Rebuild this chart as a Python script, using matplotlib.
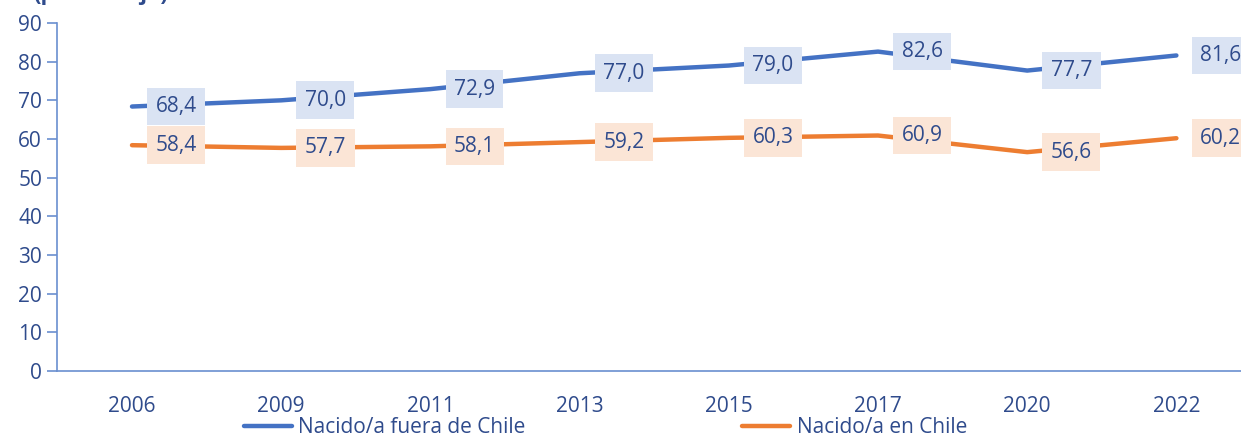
import matplotlib
matplotlib.use("Agg")
import matplotlib.pyplot as plt

years = ["2006", "2009", "2011", "2013", "2015", "2017", "2020", "2022"]
fuera = [68.4, 70.0, 72.9, 77.0, 79.0, 82.6, 77.7, 81.6]
en_chile = [58.4, 57.7, 58.1, 59.2, 60.3, 60.9, 56.6, 60.2]
series_names = ["Nacido/a fuera de Chile", "Nacido/a en Chile"]
yticks = [0, 10, 20, 30, 40, 50, 60, 70, 80, 90]

plt.rcParams['font.family'] = ['Open Sans', 'DejaVu Sans']
txt = "#2F4B8C"
blue = "#4472C4"
orange = "#ED7D31"

fig = plt.figure(figsize=(12.41, 4.37), dpi=100)
ax = fig.add_axes([57.4/1241, 66/437, 1193.6/1241, 348/437])
x = list(range(len(years)))
ax.plot(x, fuera, color=blue, lw=3.2, solid_capstyle='round', label=series_names[0])
ax.plot(x, en_chile, color=orange, lw=3.2, solid_capstyle='round', label=series_names[1])

for xs, ys, fc in [(x, fuera, "#DAE3F3"), (x, en_chile, "#FBE5D6")]:
    for xi, yi in zip(xs, ys):
        ax.annotate(f"{yi:.1f}".replace(".", ","), (xi, yi), xytext=(17, 0),
                    textcoords="offset points", ha="left", va="center",
                    fontsize=15, color=txt,
                    bbox=dict(boxstyle="square,pad=0.4", fc=fc, ec="none"),
                    annotation_clip=False)

ax.set_xlim(-0.5, 7.5)
ax.set_ylim(0, 90)
ax.set_yticks(yticks)
ax.set_xticks(x)
ax.set_xticklabels(years)
for s in ["top", "right"]:
    ax.spines[s].set_visible(False)
for s in ["left", "bottom"]:
    ax.spines[s].set_color("#6A8FD0")
    ax.spines[s].set_linewidth(1.2)
ax.tick_params(axis="y", colors="#6A8FD0", labelcolor=txt, labelsize=15, length=7, width=1.2, pad=4)
ax.tick_params(axis="x", length=0, labelcolor=txt, labelsize=15, pad=18)

fig.text(0.027, 1 - 5/437, "(porcentaje)", ha="left", va="bottom", fontsize=16,
         fontweight="bold", color=txt)

fig.legend(loc="center", bbox_to_anchor=(0.488, 0.021), ncol=2, frameon=False,
           fontsize=15, labelcolor=txt, handlelength=2.3, handletextpad=0.3,
           columnspacing=10.4)

fig.savefig("out.png", dpi=100)
